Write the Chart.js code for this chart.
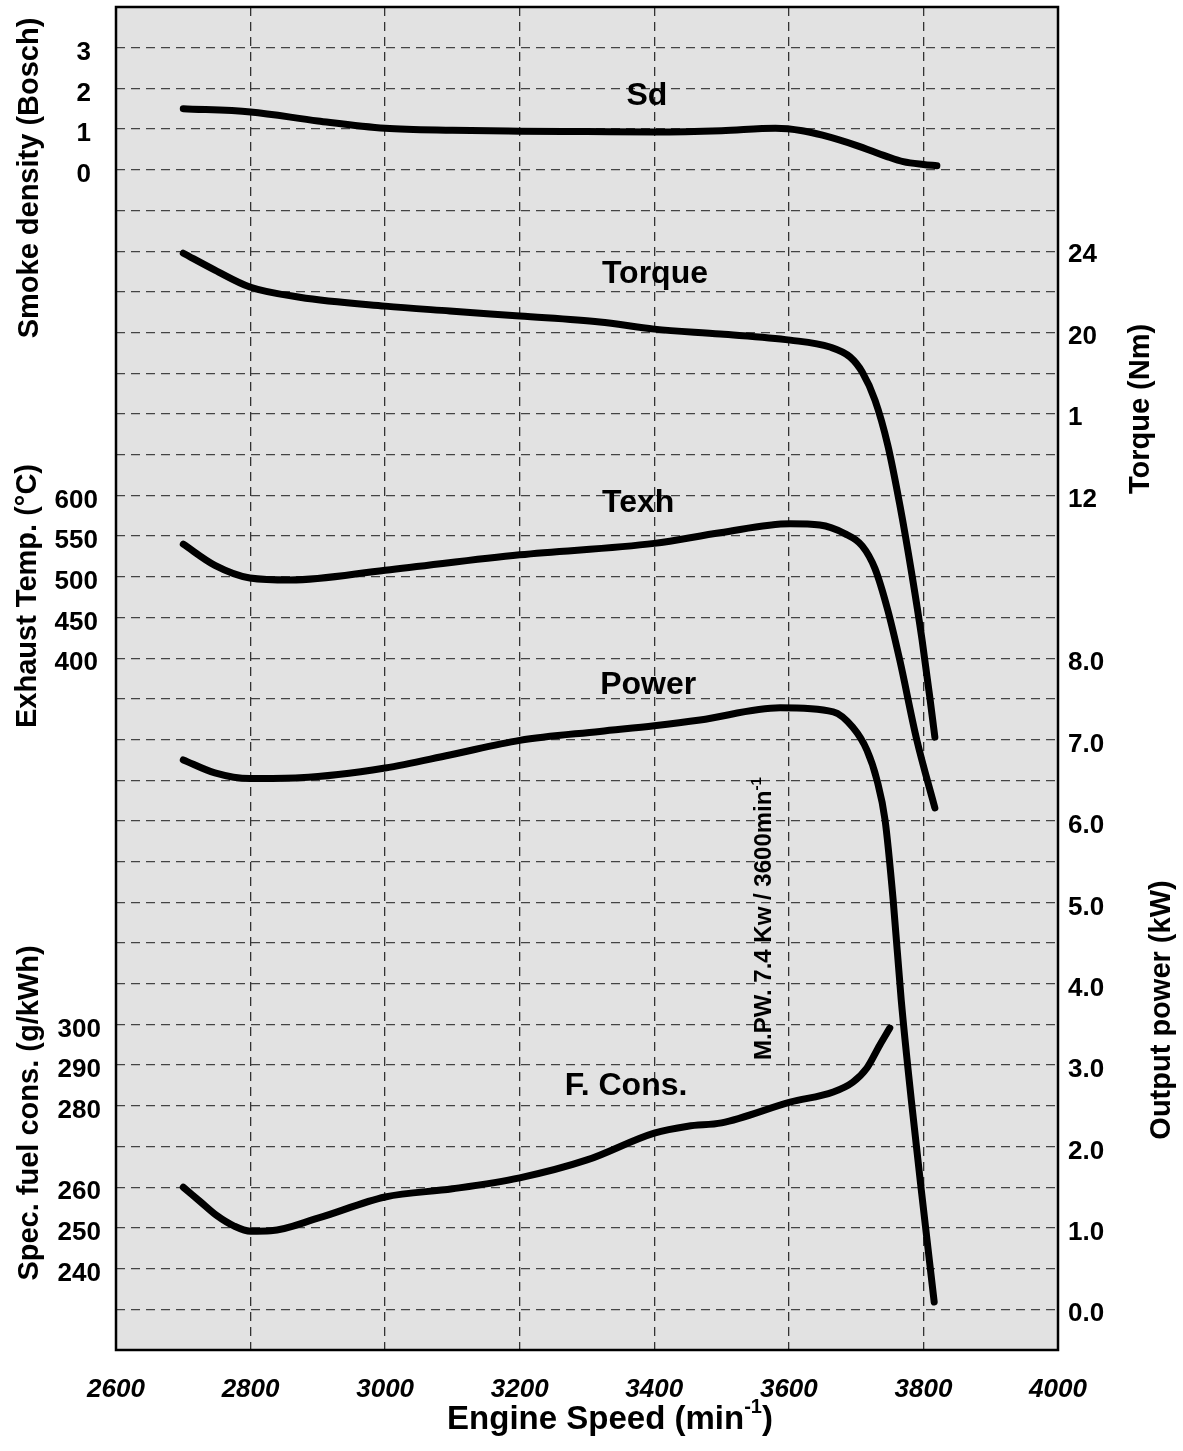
<!DOCTYPE html>
<html><head><meta charset="utf-8">
<script src="https://cdn.jsdelivr.net/npm/chart.js@4.4.1/dist/chart.umd.min.js"></script>
<style>html,body{margin:0;padding:0;background:#fff;} #wrap{width:1183px;height:1451px;}</style>
</head><body><div id="wrap"><canvas id="c" width="1183" height="1451"></canvas></div>
<script>
// ---- tick values / labels ----
const speedTicks = [2600,2800,3000,3200,3400,3600,3800,4000];
const smokeTicks = [0,1,2,3];
const exhaustTicks = [400,450,500,550,600];
const fuelTicks = [240,250,260,280,290,300];
const torqueTicks = [24,20,16,12];
const torqueTickText = ['24','20','1','12'];
const powerTicks = [0,1,2,3,4,5,6,7,8];

// ---- series ----
const sdRpm = [2700,2800,2900,3000,3100,3200,3300,3400,3500,3580,3620,3650,3700,3745,3770,3800,3820];
const sdVal = [1.5,1.42,1.2,1.02,0.97,0.95,0.94,0.93,0.96,1.02,0.96,0.85,0.6,0.33,0.2,0.13,0.1];

const tqRpm = [2700,2747,2799,2873,3000,3096,3200,3319,3400,3498,3602,3661,3691,3709,3728,3747,3765,3783,3798,3810,3817];
const tqVal = [23.9,23.07,22.24,21.74,21.3,21.06,20.81,20.52,20.17,19.93,19.63,19.29,18.8,18.06,16.68,14.47,11.52,8.08,4.89,1.94,0.12];

const txRpm = [2700,2747,2799,2859,3000,3200,3400,3498,3602,3646,3683,3709,3728,3747,3765,3790,3817];
const txVal = [540,514,498.5,496,508,527,541,554,565,563.5,553,538,510,459,397,300,216];

const pwRpm = [2700,2747,2799,2873,3000,3096,3200,3319,3400,3468,3587,3666,3695,3716,3731,3743,3755,3767,3782,3798,3816];
const pwVal = [6.75,6.59,6.52,6.53,6.65,6.81,6.99,7.1,7.17,7.24,7.39,7.34,7.15,6.87,6.5,6.01,5.03,3.8,2.57,1.38,0.09];

const fcRpm = [2700,2725,2750,2775,2800,2830,2900,3000,3100,3200,3300,3400,3450,3500,3602,3666,3695,3716,3735,3750];
const fcVal = [260,256.5,253,250.5,249.2,249.3,252.4,257.6,259.6,262.3,266.7,273.3,275,275.8,280.9,283.4,285.8,289.3,294.9,299.1];

const gridRows = Array.from({length:34}, (_, i) => i);

const FONT = "'Liberation Sans', Arial, Helvetica, sans-serif";
const pts = (xs, ys) => xs.map((x, i) => ({x, y: ys[i]}));

function lineDs(label, xs, ys, axis) {
  return {label, data: pts(xs, ys), yAxisID: axis, borderColor: '#000', borderWidth: 7,
    pointRadius: 0, cubicInterpolationMode: 'monotone', borderCapStyle: 'round', borderJoinStyle: 'round', fill: false};
}

const curveLabels = [
  {text: 'Sd', rpm: 3389, axis: 'ySd', v: 1.81},
  {text: 'Torque', rpm: 3401, axis: 'yTq', v: 22.88},
  {text: 'Texh', rpm: 3376, axis: 'yTx', v: 591},
  {text: 'Power', rpm: 3391, axis: 'yPw', v: 7.67},
  {text: 'F. Cons.', rpm: 3358, axis: 'yFc', v: 284.9}
];

function drawSup(ctx, parts, cx, baseY, size, supSize, rise) {
  let total = 0;
  const w = parts.map(p => { ctx.font = 'bold ' + (p.sup ? supSize : size) + 'px ' + FONT; const m = ctx.measureText(p.t).width; total += m; return m; });
  let x = cx - total / 2;
  parts.forEach((p, i) => {
    ctx.font = 'bold ' + (p.sup ? supSize : size) + 'px ' + FONT;
    ctx.textAlign = 'left'; ctx.textBaseline = 'alphabetic';
    ctx.fillText(p.t, x, p.sup ? baseY - rise : baseY);
    x += w[i];
  });
}
function rotText(ctx, text, x, y, size) {
  ctx.save(); ctx.translate(x, y); ctx.rotate(-Math.PI / 2);
  ctx.font = 'bold ' + size + 'px ' + FONT; ctx.textAlign = 'center'; ctx.textBaseline = 'middle';
  ctx.fillText(text, 0, 0); ctx.restore();
}

const overlay = {
  id: 'overlay',
  beforeDraw(chart) {
    const {ctx, chartArea: a} = chart;
    ctx.save(); ctx.fillStyle = '#e2e2e2'; ctx.fillRect(a.left, a.top, a.width, a.height); ctx.restore();
  },
  afterDraw(chart) {
    const {ctx, chartArea: a, scales: s} = chart;
    ctx.save();
    // frame
    ctx.strokeStyle = '#000'; ctx.lineWidth = 2.5; ctx.setLineDash([]);
    ctx.strokeRect(a.left, a.top, a.width, a.height);
    ctx.fillStyle = '#000';
    ctx.font = 'bold 26px ' + FONT; ctx.textBaseline = 'middle';
    // left tick labels
    ctx.textAlign = 'right';
    smokeTicks.forEach(v => ctx.fillText(String(v), 91, s.ySd.getPixelForValue(v) + 5));
    exhaustTicks.forEach(v => ctx.fillText(String(v), 98, s.yTx.getPixelForValue(v) + 5));
    fuelTicks.forEach(v => ctx.fillText(String(v), 101, s.yFc.getPixelForValue(v) + 5));
    // right tick labels
    ctx.textAlign = 'left';
    torqueTicks.forEach((v, i) => ctx.fillText(torqueTickText[i], 1068, s.yTq.getPixelForValue(v) + 4));
    powerTicks.forEach(v => ctx.fillText(v.toFixed(1), 1068, s.yPw.getPixelForValue(v) + 5));
    // axis titles
    rotText(ctx, 'Smoke density (Bosch)', 30, 178, 29);
    rotText(ctx, 'Exhaust Temp. (°C)', 28, 596, 29);
    rotText(ctx, 'Spec. fuel cons. (g/kWh)', 30, 1113, 29);
    rotText(ctx, 'Torque (Nm)', 1141, 409, 29);
    rotText(ctx, 'Output power (kW)', 1162, 1010, 29);
    drawSup(ctx, [{t: 'Engine Speed (min'}, {t: '-1', sup: true}, {t: ')'}], 610, 1429, 33, 20, 16);
    // curve labels
    ctx.font = 'bold 32px ' + FONT; ctx.textAlign = 'center'; ctx.textBaseline = 'middle';
    curveLabels.forEach(l => ctx.fillText(l.text, s.x.getPixelForValue(l.rpm), s[l.axis].getPixelForValue(l.v)));
    // vertical annotation
    ctx.save();
    ctx.translate(s.x.getPixelForValue(3562), s.yPw.getPixelForValue(4.8));
    ctx.rotate(-Math.PI / 2);
    drawSup(ctx, [{t: 'M.PW. 7.4 Kw / 3600min'}, {t: '-1', sup: true}], 0, 8, 24, 15, 10);
    ctx.restore();
    ctx.restore();
  }
};

const hidden = (min, max, pos) => ({type: 'linear', display: false, position: pos, min, max});

new Chart(document.getElementById('c'), {
  type: 'line',
  data: {datasets: [
    lineDs('Sd', sdRpm, sdVal, 'ySd'),
    lineDs('Torque', tqRpm, tqVal, 'yTq'),
    lineDs('Texh', txRpm, txVal, 'yTx'),
    lineDs('Power', pwRpm, pwVal, 'yPw'),
    lineDs('F. Cons.', fcRpm, fcVal, 'yFc')
  ]},
  options: {
    responsive: false, animation: false, devicePixelRatio: 1,
    layout: {padding: {left: 116, right: 125, top: 7, bottom: 0}},
    plugins: {legend: {display: false}, tooltip: {enabled: false}},
    scales: {
      x: {type: 'linear', position: 'bottom', min: 2600, max: 4000,
        afterBuildTicks: sc => { sc.ticks = speedTicks.map(v => ({value: v})); },
        afterFit: sc => { sc.height = 101; },
        ticks: {autoSkip: false, maxRotation: 0, color: '#000', padding: 24,
          callback: v => String(v),
          font: {family: FONT, size: 26, weight: 'bold', style: 'italic'}},
        grid: {color: '#333', lineWidth: 1.3, drawTicks: false},
        border: {display: false, dash: [9, 6]}
      },
      g: {type: 'linear', position: 'left', min: 0, max: 33,
        afterBuildTicks: sc => { sc.ticks = gridRows.map(v => ({value: v})); },
        afterFit: sc => { sc.width = 0; },
        ticks: {display: false},
        grid: {color: '#444', lineWidth: 1.3, drawTicks: false},
        border: {display: false, dash: [9, 6]}
      },
      ySd: hidden(-29, 4, 'left'),
      yTx: hidden(-450, 1200, 'left'),
      yFc: hidden(220, 550, 'left'),
      yTq: hidden(-30, 36, 'right'),
      yPw: hidden(-0.5, 16, 'right')
    }
  },
  plugins: [overlay]
});
</script></body></html>
